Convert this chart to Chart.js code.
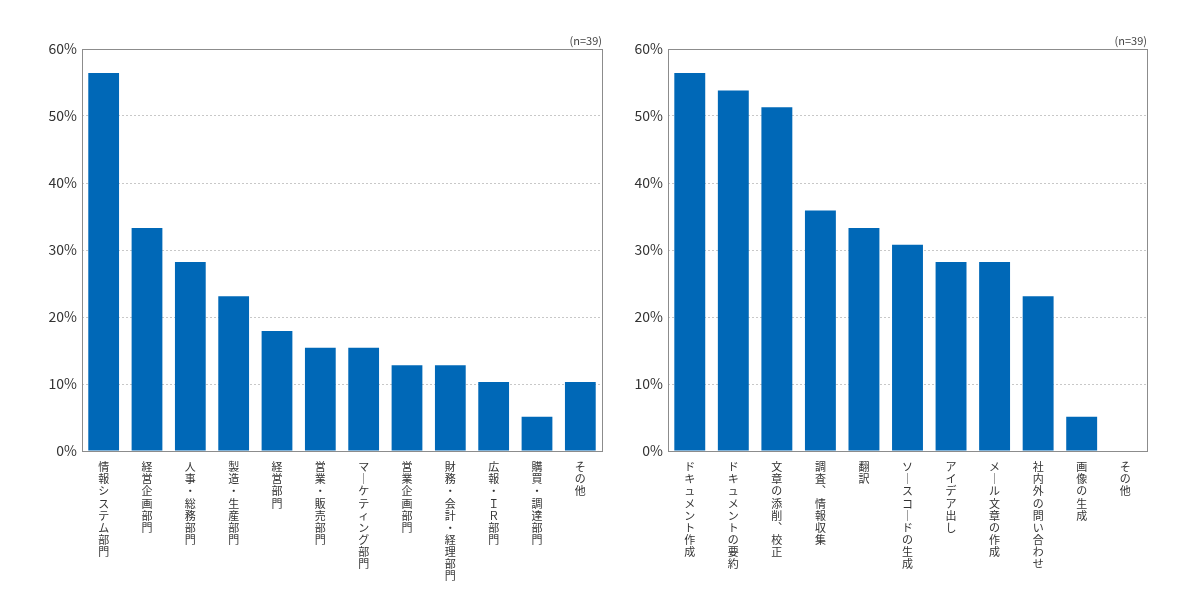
<!DOCTYPE html>
<html>
<head>
<meta charset="utf-8">
<script src="https://cdn.jsdelivr.net/npm/chart.js@4"></script>
<style>
  body { margin: 0; background: #fff; }
  .wrap { position: absolute; top: 0; height: 600px; }
</style>
</head>
<body>
<div class="wrap" style="left:0;width:610px;"><canvas id="deptChart"></canvas></div>
<div class="wrap" style="left:610px;width:590px;"><canvas id="useChart"></canvas></div>
<script>
// 左: 部門
const deptLabels = ['情報システム部門', '経営企画部門', '人事・総務部門', '製造・生産部門', '経営部門', '営業・販売部門',
    'マーケティング部門', '営業企画部門', '財務・会計・経理部門', '広報・ＩＲ部門', '購買・調達部門', 'その他'];
const deptValues = [56.4, 33.3, 28.2, 23.1, 17.9, 15.4, 15.4, 12.8, 12.8, 10.3, 5.1, 10.3];

// 右: 用途
const useLabels = ['ドキュメント作成', 'ドキュメントの要約', '文章の添削、校正', '調査、情報収集', '翻訳', 'ソースコードの生成',
    'アイデア出し', 'メール文章の作成', '社内外の問い合わせ', '画像の生成', 'その他'];
const useValues = [56.4, 53.8, 51.3, 35.9, 33.3, 30.8, 28.2, 28.2, 23.1, 5.1, 0];

const yTicks = [0, 10, 20, 30, 40, 50, 60];
const sampleNote = '(n=39)';

const BAR_COLOR = '#0068b7';
const FONT = '"Noto Sans CJK JP", "Noto Sans", sans-serif';

// 縦書き風: 1文字ずつ改行、長音と読点は縦用に置換
function toVertical(s) {
    return Array.from(s).map(c => c === 'ー' ? '｜' : c === '、' ? '︑' : c);
}

const framePlugin = {
    id: 'frame',
    afterDraw(chart) {
        const { ctx, chartArea: a } = chart;
        ctx.save();
        ctx.strokeStyle = '#8c8c8c';
        ctx.lineWidth = 1;
        ctx.strokeRect(Math.round(a.left) + 0.5, Math.round(a.top) + 0.5,
            Math.round(a.right - a.left), Math.round(a.bottom - a.top));
        ctx.fillStyle = '#444';
        ctx.font = '11px ' + FONT;
        ctx.textAlign = 'right';
        ctx.textBaseline = 'bottom';
        ctx.fillText(sampleNote, a.right, a.top - 3);
        ctx.restore();
    }
};

function makeChart(id, labels, values, yWidth, rightPad) {
    return new Chart(document.getElementById(id), {
        type: 'bar',
        data: {
            labels: labels.map(toVertical),
            datasets: [{
                data: values,
                backgroundColor: BAR_COLOR,
                categoryPercentage: 0.71,
                barPercentage: 1.0
            }]
        },
        options: {
            responsive: true,
            maintainAspectRatio: false,
            animation: false,
            layout: { padding: { top: 49, right: rightPad, left: 0, bottom: 0 } },
            plugins: { legend: { display: false }, tooltip: { enabled: false } },
            scales: {
                x: {
                    grid: { display: false },
                    border: { display: false },
                    ticks: {
                        autoSkip: false, maxRotation: 0, minRotation: 0,
                        color: '#333', padding: 2,
                        font: { family: FONT, size: 11, lineHeight: 1.1 }
                    },
                    afterFit(scale) { scale.height = 149; }
                },
                y: {
                    min: 0, max: 60,
                    afterBuildTicks(scale) { scale.ticks = yTicks.map(v => ({ value: v })); },
                    grid: {
                        color: ctx => (ctx.tick.value === 0 || ctx.tick.value === 60) ? 'rgba(0,0,0,0)' : '#c8c8c8',
                        drawTicks: false
                    },
                    border: { display: false, dash: [2, 2] },
                    ticks: {
                        color: '#333', padding: 5,
                        font: { family: FONT, size: 14 },
                        callback: v => v + '%'
                    },
                    afterFit(scale) { scale.width = yWidth; }
                }
            }
        },
        plugins: [framePlugin]
    });
}

makeChart('deptChart', deptLabels, deptValues, 82, 8);
makeChart('useChart', useLabels, useValues, 58, 53);
</script>
</body>
</html>
